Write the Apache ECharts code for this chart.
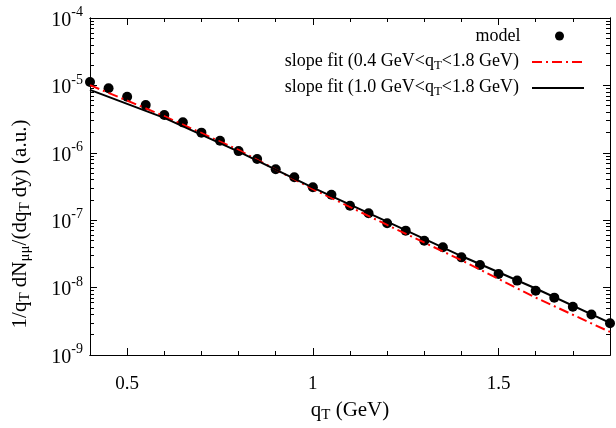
<!DOCTYPE html>
<html>
<head>
<meta charset="utf-8">
<script src="https://cdn.jsdelivr.net/npm/echarts@6/dist/echarts.min.js"></script>
<style>
 html, body { margin: 0; padding: 0; background: #fff; }
 #chart { width: 616px; height: 428px; }
</style>
</head>
<body>
<div id="chart"></div>
<script>
// model points
var qT = [0.4, 0.45, 0.5, 0.55, 0.6, 0.65, 0.7, 0.75, 0.8, 0.85, 0.9, 0.95, 1.0, 1.05, 1.1,
  1.15, 1.2, 1.25, 1.3, 1.35, 1.4, 1.45, 1.5, 1.55, 1.6, 1.65, 1.7, 1.75, 1.8];
var model = [1.12e-5, 9.1e-6, 6.8e-6, 5.1e-6, 3.64e-6, 2.83e-6, 1.99e-6, 1.51e-6, 1.06e-6,
  8.1e-7, 5.7e-7, 4.33e-7, 3.08e-7, 2.39e-7, 1.64e-7, 1.27e-7, 9.0e-8, 7.0e-8, 4.97e-8,
  3.96e-8, 2.81e-8, 2.16e-8, 1.59e-8, 1.27e-8, 9.0e-9, 7.1e-9, 5.2e-9, 4.0e-9, 2.95e-9];

// fit curves
var fitX = [0.4, 0.6, 0.8, 1.0, 1.2, 1.4, 1.6, 1.8];
var fitLow = [1.01e-5, 3.5e-6, 1.1e-6, 2.9e-7, 8.5e-8, 2.55e-8, 7.1e-9, 2.2e-9];   // 0.4-1.8
var fitHigh = [8.6e-6, 3.3e-6, 1.04e-6, 3.05e-7, 9.5e-8, 2.94e-8, 9.7e-9, 3.0e-9]; // 1.0-1.8

// ticks
var xMajor = [0.5, 1, 1.5];
var xMinor = [0.6, 0.7, 0.8, 0.9, 1.1, 1.2, 1.3, 1.4, 1.6, 1.7];
var yMajor = [1e-9, 1e-8, 1e-7, 1e-6, 1e-5, 1e-4];
var yMinor = [];
for (var e = -9; e < -4; e++) {
  for (var k = 2; k <= 9; k++) yMinor.push(k * Math.pow(10, e));
}

var nameModel = 'model';
var nameLow = 'slope fit (0.4 GeV<qT<1.8 GeV)';
var nameHigh = 'slope fit (1.0 GeV<qT<1.8 GeV)';
var legendText = {};
legendText[nameModel] = '{e|model}';
legendText[nameLow] = '{n|slope fit (0.4 GeV<q}{sub|T}{e|<1.8 GeV)}';
legendText[nameHigh] = '{n|slope fit (1.0 GeV<q}{sub|T}{e|<1.8 GeV)}';

var font = 'Liberation Serif';
var rich = {
  n: { fontFamily: font, fontSize: 18, color: '#000', verticalAlign: 'top' },
  e: { fontFamily: font, fontSize: 18, color: '#000', verticalAlign: 'top', padding: [0, 8, 0, 0] },
  sub: { fontFamily: font, fontSize: 13, color: '#000', verticalAlign: 'top', padding: [7, 0, 0, 0] },
  b: { fontFamily: font, fontSize: 20, color: '#000', verticalAlign: 'top', padding: [5, 0, 0, 0] },
  s: { fontFamily: font, fontSize: 14, color: '#000', verticalAlign: 'top' },
  tn: { fontFamily: font, fontSize: 21, color: '#000', verticalAlign: 'top' },
  ts: { fontFamily: font, fontSize: 15, color: '#000', verticalAlign: 'top', padding: [8, 0, 0, 0] }
};

function pairs(xs, ys) {
  return xs.map(function (x, i) { return [x, ys[i]]; });
}

function xAx(pos, ticks, len, labels) {
  return {
    type: 'value', min: 0.4, max: 1.8, position: pos,
    axisLine: { show: true, onZero: false, lineStyle: { color: '#000', width: 1 } },
    axisTick: { show: true, inside: true, length: len, customValues: ticks, lineStyle: { color: '#000' } },
    axisLabel: labels ? {
      show: true, customValues: ticks, margin: 20, color: '#000',
      fontFamily: font, fontSize: 19
    } : { show: false },
    splitLine: { show: false }
  };
}
function yAx(pos, ticks, len, labels) {
  return {
    type: 'log', logBase: 10, min: 1e-9, max: 1e-4, position: pos,
    axisLine: { show: true, lineStyle: { color: '#000', width: 1 } },
    axisTick: { show: true, inside: true, length: len, customValues: ticks, lineStyle: { color: '#000' } },
    axisLabel: labels ? {
      show: true, customValues: ticks, margin: 7,
      formatter: function (v) { return '{b|10}{s|' + Math.round(Math.log10(v)) + '}'; },
      rich: rich
    } : { show: false },
    splitLine: { show: false }
  };
}

var xs = [xAx('bottom', xMajor, 7, true), xAx('bottom', xMinor, 4, false),
  xAx('top', xMajor, 7, false), xAx('top', xMinor, 4, false)];
xs[0].name = '{tn|q}{ts|T}{tn| (GeV)}';
xs[0].nameLocation = 'middle';
xs[0].nameGap = 45;
xs[0].nameTextStyle = { rich: rich };

var ys = [yAx('left', yMajor, 7, true), yAx('left', yMinor, 4, false),
  yAx('right', yMajor, 7, false), yAx('right', yMinor, 4, false)];

var chart = echarts.init(document.getElementById('chart'));
chart.setOption({
  animation: false,
  grid: { left: 90, right: 6, top: 18, bottom: 73, containLabel: false },
  // y title sits a bit below the plot middle in the original, so it is placed by hand
  graphic: [{
    type: 'text', x: 21, y: 224, rotation: Math.PI / 2,
    style: {
      text: '{tn|1/q}{ts|T}{tn| dN}{ts|μμ}{tn|/(dq}{ts|T}{tn| dy) (a.u.)}',
      rich: rich, align: 'center', verticalAlign: 'middle'
    }
  }],
  legend: [{
    data: [nameModel], orient: 'vertical', align: 'right', right: 52, top: 27, padding: 0,
    itemWidth: 52, itemHeight: 9,
    formatter: function (n) { return legendText[n]; },
    textStyle: { rich: rich }
  }, {
    data: [nameLow, nameHigh], orient: 'vertical', align: 'right', right: 31, top: 52, padding: 0,
    itemWidth: 52, itemHeight: 14, itemGap: 6,
    itemStyle: { opacity: 0 },
    formatter: function (n) { return legendText[n]; },
    textStyle: { rich: rich }
  }],
  xAxis: xs,
  yAxis: ys,
  series: [{
    name: nameModel, type: 'scatter', symbol: 'circle', symbolSize: 10,
    itemStyle: { color: '#000', opacity: 1 },
    data: pairs(qT, model)
  }, {
    name: nameLow, type: 'line', symbol: 'none', showSymbol: false,
    lineStyle: { color: '#ff0000', width: 2, type: [10, 4, 2, 4] },
    itemStyle: { color: '#ff0000' },
    data: pairs(fitX, fitLow)
  }, {
    name: nameHigh, type: 'line', symbol: 'none', showSymbol: false,
    lineStyle: { color: '#000', width: 2 },
    itemStyle: { color: '#000' },
    data: pairs(fitX, fitHigh)
  }]
});
</script>
</body>
</html>
